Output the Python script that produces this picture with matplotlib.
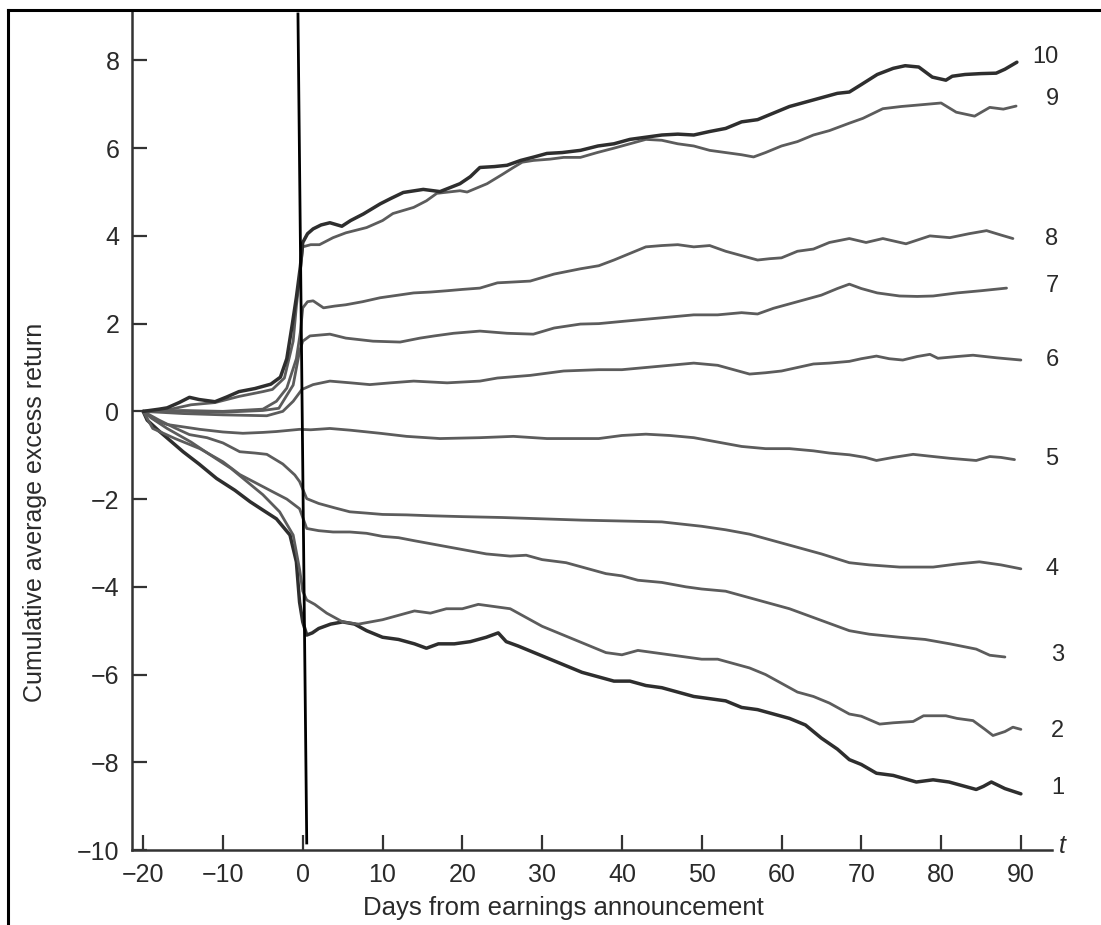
import matplotlib
matplotlib.use('Agg')
import matplotlib.pyplot as plt
from matplotlib.lines import Line2D

plt.rcParams['font.family'] = ['Liberation Sans', 'DejaVu Sans']

# decile curves: days from announcement and cumulative average excess return
t10 = [-20, -18, -17, -15.5, -14.2, -13, -11, -9.5, -8, -6, -4, -2.8, -2, -1.3, -0.8, -0.3, 0, 0.6, 1.3, 2.3,
       3.4, 4.9, 6, 7.6, 9.7, 11, 12.6, 15.1, 17.2, 19.7, 21, 22.2, 24, 25.6, 27.3, 29, 30.6, 32.5, 34.8, 37,
       39, 41, 43, 45, 47, 49, 51, 53, 55, 57, 59, 61, 63, 65, 67, 68.5, 70, 72, 74, 75.5, 77.2, 78.9, 80.6,
       81.4, 83, 85, 86.9, 88, 89.5]
v10 = [0.0, 0.05, 0.08, 0.2, 0.32, 0.27, 0.22, 0.33, 0.45, 0.52, 0.62, 0.78, 1.2, 2.0, 2.6, 3.3, 3.85, 4.05, 4.16, 4.25,
       4.3, 4.22, 4.35, 4.5, 4.73, 4.85, 4.99, 5.06, 5.01, 5.19, 5.35, 5.56, 5.58, 5.61, 5.72, 5.8, 5.88, 5.9, 5.95, 6.05,
       6.1, 6.2, 6.25, 6.3, 6.32, 6.3, 6.38, 6.45, 6.6, 6.65, 6.8, 6.95, 7.05, 7.15, 7.25, 7.28, 7.45, 7.68, 7.82, 7.88,
       7.85, 7.62, 7.55, 7.64, 7.68, 7.7, 7.71, 7.8, 7.96]

t9 = [-20, -17, -14, -11, -8, -5, -3.8, -2.3, -1.2, -0.8, -0.3, 0, 1, 2.1, 3.8, 5.4, 8, 10, 11.3, 13.9, 15.5,
      16.8, 19.7, 20.6, 23.1, 25, 26.4, 27.5, 28.9, 31, 32.7, 34.8, 36.9, 39, 41, 43, 45, 47, 49, 51, 53, 55,
      56.5, 58, 60, 62, 64, 66, 68.5, 70.2, 72.7, 75, 76.9, 80, 81.9, 84.2, 86.1, 87.8, 89.4]
v9 = [0.0, 0.03, 0.15, 0.2, 0.34, 0.45, 0.5, 0.76, 1.6, 2.4, 3.2, 3.75, 3.8, 3.8, 3.96, 4.07, 4.19, 4.35, 4.51, 4.65, 4.8,
      4.97, 5.03, 5.0, 5.19, 5.4, 5.56, 5.68, 5.72, 5.75, 5.79, 5.79, 5.9, 6.0, 6.1, 6.2, 6.18, 6.1, 6.05, 5.95, 5.9, 5.85,
      5.8, 5.9, 6.05, 6.15, 6.3, 6.4, 6.57, 6.68, 6.9, 6.95, 6.98, 7.03, 6.82, 6.73, 6.93, 6.89, 6.96]

t8 = [-20, -15, -10, -5, -3.3, -2, -0.8, -0.3, 0, 0.6, 1.3, 2.6, 4, 5.4, 7.5, 9.7, 12, 13.9, 16, 18.1, 20, 22.2,
      24.4, 26.5, 28.5, 31.5, 34.8, 37.1, 39, 41, 43, 45, 47, 49, 51, 53, 55, 57, 58.5, 60, 62, 64, 66, 68.5,
      70.6, 72.7, 75.6, 78.6, 81.1, 83.5, 85.7, 87.5, 89]
v8 = [0.0, 0.02, 0.0, 0.05, 0.23, 0.53, 1.2, 1.8, 2.36, 2.5, 2.52, 2.36, 2.4, 2.43, 2.5, 2.59, 2.65, 2.7, 2.72, 2.75, 2.78, 2.81,
      2.93, 2.95, 2.97, 3.13, 3.25, 3.32, 3.45, 3.6, 3.75, 3.78, 3.8, 3.75, 3.78, 3.65, 3.55, 3.45, 3.48, 3.5, 3.65, 3.7, 3.85, 3.94,
      3.85, 3.94, 3.82, 4.0, 3.96, 4.05, 4.12, 4.02, 3.94]

t7 = [-20, -15, -10, -5, -3, -1.2, -0.4, 0, 0.9, 3.4, 5.4, 8.8, 12.2, 14.7, 16.5, 18.9, 22.2, 25.6, 28.9, 31.5,
      34.8, 37.1, 40, 43, 46, 49, 52, 55, 57, 59, 61, 63, 65, 67, 68.5, 70, 72, 74.8, 77, 79, 82, 85, 88.2]
v7 = [0.0, 0.0, -0.02, 0.02, 0.07, 0.6, 1.37, 1.6, 1.72, 1.76, 1.67, 1.6, 1.58, 1.67, 1.72, 1.78, 1.83, 1.78, 1.76, 1.9,
      1.99, 2.0, 2.05, 2.1, 2.15, 2.2, 2.2, 2.25, 2.22, 2.35, 2.45, 2.55, 2.65, 2.8, 2.9, 2.8, 2.7, 2.63, 2.62, 2.63, 2.7, 2.75, 2.81]

t6 = [-20, -15, -10, -4.5, -2.5, -1.2, -0.1, 1.3, 3.4, 6, 8.4, 11, 13.9, 18.1, 22.2, 24.4, 28.5, 32.7, 37.1, 40,
      43, 46, 49, 52, 54, 56, 58, 60, 62, 64, 66, 68.5, 70, 71.9, 73.5, 75.2, 77, 78.6, 79.6, 82, 84, 87, 90]
v6 = [0.0, -0.05, -0.08, -0.1, 0.0, 0.23, 0.5, 0.61, 0.69, 0.65, 0.61, 0.65, 0.69, 0.65, 0.69, 0.76, 0.82, 0.92, 0.95, 0.95,
      1.0, 1.05, 1.1, 1.05, 0.95, 0.85, 0.88, 0.92, 1.0, 1.08, 1.1, 1.14, 1.2, 1.26, 1.2, 1.17, 1.25, 1.3, 1.21, 1.25, 1.28, 1.22, 1.17]

t5 = [-20, -18.5, -17, -14, -12.9, -10, -7.5, -5, -3.3, -0.4, 1, 3.4, 6, 9.7, 13, 17.2, 22.2, 26.4, 30.6, 37.1,
      40, 43, 46, 49, 52, 55, 58, 61, 64, 66, 68.5, 70.5, 71.9, 74, 76.5, 78.5, 81.1, 84.4, 86.1, 87.5, 89.2]
v5 = [0.0, -0.2, -0.3, -0.38, -0.41, -0.47, -0.5, -0.48, -0.46, -0.41, -0.42, -0.39, -0.43, -0.5, -0.57, -0.62, -0.6, -0.57, -0.62, -0.62,
      -0.55, -0.52, -0.55, -0.6, -0.7, -0.8, -0.85, -0.85, -0.9, -0.95, -0.99, -1.05, -1.12, -1.05, -0.98, -1.02, -1.07, -1.12, -1.03, -1.05, -1.1]

t4 = [-20, -18, -16, -14.2, -12, -10, -7.9, -6, -4.5, -2.5, -1, -0.4, 0.5, 2, 4, 5.9, 8, 10, 13, 16, 20, 25, 30,
      35, 40, 45, 50, 53, 56, 59, 62, 65, 68.5, 71, 74.8, 79, 82, 84.8, 87.5, 90]
v4 = [0.0, -0.2, -0.38, -0.53, -0.6, -0.72, -0.92, -0.95, -0.98, -1.2, -1.45, -1.6, -1.99, -2.1, -2.2, -2.29, -2.32, -2.35, -2.36, -2.38, -2.4, -2.42, -2.45,
      -2.48, -2.5, -2.52, -2.62, -2.7, -2.8, -2.95, -3.1, -3.25, -3.45, -3.5, -3.55, -3.55, -3.48, -3.43, -3.5, -3.59]

t3 = [-20, -18.8, -16, -12.9, -10, -7.9, -6, -3.8, -2, -0.4, 0.5, 2, 3.8, 5.9, 8, 10, 12, 14, 17, 20, 23, 26, 28,
      30, 33, 36, 38, 40, 42, 45, 48, 50, 53, 55, 58, 61, 64, 67, 68.5, 71, 74.8, 78, 81.1, 84.4, 86.1, 88]
v3 = [0.0, -0.39, -0.62, -0.85, -1.15, -1.44, -1.62, -1.83, -2.0, -2.22, -2.67, -2.72, -2.75, -2.75, -2.78, -2.85, -2.88, -2.95, -3.05, -3.15, -3.25, -3.3, -3.28,
      -3.38, -3.45, -3.6, -3.7, -3.75, -3.85, -3.9, -4.0, -4.05, -4.1, -4.2, -4.35, -4.5, -4.7, -4.9, -5.0, -5.08, -5.15, -5.2, -5.3, -5.42, -5.56, -5.6]

t2 = [-20, -19, -17, -14, -11.7, -9, -7, -5, -2.9, -1.2, -0.4, 0, 0.5, 1.5, 3, 5, 7, 8.5, 10, 12, 14, 16, 18, 20,
      22, 24, 26, 28, 30, 32, 34, 36, 38, 40, 42, 44, 46, 48, 50, 52, 54, 56, 58, 60, 62, 64, 66, 68.5, 70, 72.3,
      74, 76.5, 77.8, 80.6, 82, 84, 85.5, 86.5, 88, 89, 90]
v2 = [0.0, -0.15, -0.39, -0.7, -0.98, -1.3, -1.6, -1.9, -2.29, -2.82, -3.6, -4.1, -4.3, -4.4, -4.6, -4.8, -4.85, -4.8, -4.75, -4.65, -4.55, -4.6, -4.5, -4.5,
      -4.4, -4.45, -4.5, -4.7, -4.9, -5.05, -5.2, -5.35, -5.5, -5.55, -5.45, -5.5, -5.55, -5.6, -5.65, -5.65, -5.75, -5.85, -6.0, -6.2, -6.4, -6.5, -6.65, -6.9, -6.95, -7.13,
      -7.1, -7.07, -6.94, -6.94, -7.0, -7.05, -7.25, -7.39, -7.3, -7.2, -7.25]

t1 = [-20, -19.5, -18, -15, -13, -10.8, -8.5, -6.6, -5, -3.3, -1.6, -0.8, -0.4, 0, 0.5, 1.2, 2, 3.5, 5, 6.5, 8, 10,
      12, 14, 15.5, 17, 19, 21, 23, 24.5, 25.5, 27, 29, 31, 33, 35, 37, 39, 41, 43, 45, 47, 49, 51, 53, 55, 57, 59,
      61, 63, 65, 67, 68.5, 70, 71.9, 74, 76.9, 79, 81, 83, 84.4, 85.3, 86.3, 88, 90]
v1 = [0.0, -0.2, -0.45, -0.92, -1.2, -1.53, -1.8, -2.06, -2.25, -2.45, -2.82, -3.43, -4.35, -4.8, -5.1, -5.05, -4.95, -4.85, -4.8, -4.85, -5.0, -5.15,
      -5.2, -5.3, -5.4, -5.3, -5.3, -5.25, -5.15, -5.05, -5.25, -5.35, -5.5, -5.65, -5.8, -5.95, -6.05, -6.15, -6.15, -6.25, -6.3, -6.4, -6.5, -6.55, -6.6, -6.75, -6.8, -6.9,
      -7.0, -7.15, -7.45, -7.7, -7.94, -8.05, -8.25, -8.3, -8.45, -8.4, -8.45, -8.55, -8.62, -8.55, -8.45, -8.6, -8.72]

series = [(t1, v1), (t2, v2), (t3, v3), (t4, v4), (t5, v5), (t6, v6), (t7, v7), (t8, v8), (t9, v9), (t10, v10)]
decile_names = ['1', '2', '3', '4', '5', '6', '7', '8', '9', '10']
label_x = [94.6, 94.6, 94.6, 93.9, 93.9, 93.9, 93.9, 93.9, 93.9, 93.1]
label_y = [-8.58, -7.28, -5.56, -3.59, -1.08, 1.17, 2.86, 3.94, 7.12, 8.08]

x_ticks = [-20, -10, 0, 10, 20, 30, 40, 50, 60, 70, 80, 90]
y_ticks = [8, 6, 4, 2, 0, -2, -4, -6, -8, -10]

W, H = 1101, 925
fig = plt.figure(figsize=(W / 100, H / 100), dpi=100)
ax = fig.add_axes([132 / W, 75 / H, 920 / W, 840 / H])

for i, (t, v) in enumerate(series):
    dark = i in (0, 9)
    ax.plot(t, v, color='#2e2e2e' if dark else '#5c5c5c', lw=2.5 if dark else 2.0,
            solid_joinstyle='round', solid_capstyle='round')

for name, lx, ly in zip(decile_names, label_x, label_y):
    ax.text(lx, ly, name, ha='center', va='center', fontsize=17, color='#2a2a2a', clip_on=False)

# announcement day marker (slightly tilted, as in the scanned figure)
ax.plot([-0.6, 0.5], [9.06, -9.84], color='black', lw=2.0)

ax.set_xlim(-21.4, 93.9)
ax.set_ylim(-10, 9.15)
ax.set_xticks(x_ticks)
ax.set_xticklabels([str(x).replace('-', '\u2212') for x in x_ticks])
ax.set_yticks(y_ticks)
ax.set_yticklabels([str(y).replace('-', '\u2212') for y in y_ticks])
ax.tick_params(direction='in', length=11, width=1.6, color='#333333', labelsize=18,
               labelcolor='#2a2a2a', pad=9)
for side in ('top', 'right'):
    ax.spines[side].set_visible(False)
for side in ('left', 'bottom'):
    ax.spines[side].set_color('#333333')
    ax.spines[side].set_linewidth(1.8)

ax.text(94.8, -9.9, 't', fontsize=18, style='italic', ha='left', va='center', color='#2a2a2a', clip_on=False)
fig.text(563 / W, 1 - 908 / H, 'Days from earnings announcement', ha='center', va='center',
         fontsize=18.5, color='#2a2a2a')
fig.text(35 / W, 1 - 512 / H, 'Cumulative average excess return', ha='center', va='center',
         rotation=90, fontsize=18, color='#2a2a2a')

# frame lines at top and left edge of the scan
fig.add_artist(Line2D([8 / W, 1], [1 - 10 / H, 1 - 10 / H], transform=fig.transFigure, color='black', lw=2.2))
fig.add_artist(Line2D([8 / W, 8 / W], [0, 1 - 10 / H], transform=fig.transFigure, color='black', lw=2.2))

fig.savefig('out.png', dpi=100)
